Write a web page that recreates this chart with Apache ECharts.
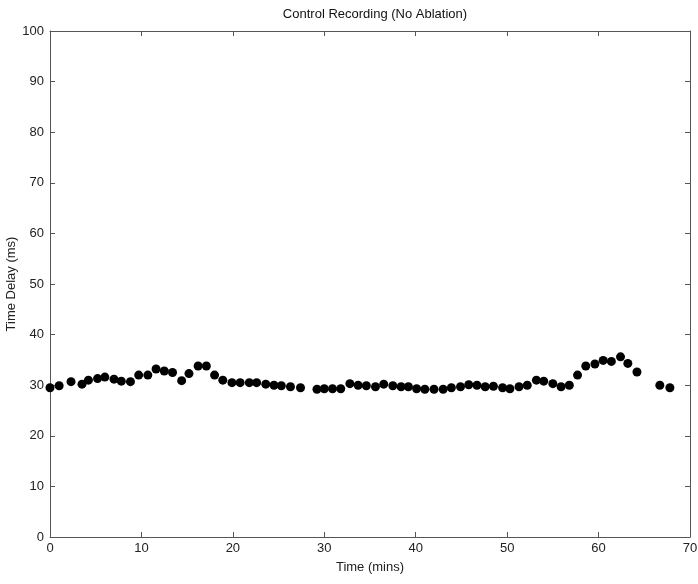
<!DOCTYPE html>
<html>
<head>
<meta charset="utf-8">
<script src="https://cdn.jsdelivr.net/npm/echarts@6/dist/echarts.min.js"></script>
<style>
  html, body { margin: 0; padding: 0; background: #fff; }
  #chart { width: 698px; height: 584px; }
</style>
</head>
<body>
<div id="chart"></div>
<script>
// 数据：时间 (mins) 与 延迟 (ms)
var timeMins = [0, 1.0, 2.3, 3.5, 4.2, 5.2, 6.0, 7.0, 7.8, 8.8, 9.7, 10.7, 11.6, 12.5, 13.4,
  14.4, 15.2, 16.2, 17.1, 18.0, 18.9, 19.9, 20.8, 21.8, 22.6, 23.6, 24.5, 25.3, 26.3, 27.4,
  29.2, 30.0, 30.9, 31.8, 32.8, 33.7, 34.6, 35.6, 36.5, 37.5, 38.4, 39.2, 40.1, 41.0, 42.0,
  43.0, 43.9, 44.9, 45.8, 46.7, 47.6, 48.5, 49.5, 50.3, 51.3, 52.2, 53.2, 54.0, 55.0, 55.9,
  56.8, 57.7, 58.6, 59.6, 60.5, 61.4, 62.4, 63.2, 64.2, 66.7, 67.8];
var delayMs = [29.5, 29.9, 30.7, 30.2, 31.0, 31.3, 31.6, 31.2, 30.8, 30.7, 32.0, 32.0, 33.2, 32.8, 32.5,
  30.9, 32.3, 33.8, 33.8, 32.0, 31.0, 30.5, 30.5, 30.5, 30.5, 30.2, 30.0, 29.9, 29.7, 29.5,
  29.2, 29.3, 29.3, 29.3, 30.3, 30.0, 29.9, 29.7, 30.2, 29.9, 29.7, 29.7, 29.3, 29.2, 29.2,
  29.2, 29.5, 29.7, 30.1, 30.0, 29.7, 29.8, 29.5, 29.3, 29.7, 30.0, 31.0, 30.8, 30.3, 29.7,
  30.0, 32.0, 33.8, 34.2, 34.9, 34.7, 35.6, 34.3, 32.6, 30.0, 29.5];

var points = timeMins.map(function(t, i) { return [t, delayMs[i]]; });

var myChart = echarts.init(document.getElementById("chart"));

var lineCol = "#555";
var labelStyle = { color: "#222", fontSize: 13, fontFamily: "Liberation Sans, Arial, sans-serif" };

var option = {
  animation: false,
  title: {
    text: "Control Recording (No Ablation)",
    left: 370,
    top: 3,
    textAlign: "center",
    textStyle: { color: "#111", fontSize: 13, fontWeight: "normal", fontFamily: "Liberation Sans, Arial, sans-serif" }
  },
  grid: { left: 50, top: 31, right: 8, bottom: 47, containLabel: false, outerBoundsMode: "none" },
  xAxis: [
    {
      type: "value", min: 0, max: 70, interval: 10,
      name: "Time (mins)", nameLocation: "middle", nameGap: 24,
      nameTextStyle: labelStyle,
      axisLine: { onZero: false, lineStyle: { color: lineCol } },
      axisTick: { inside: true, length: 5, lineStyle: { color: lineCol } },
      axisLabel: Object.assign({ margin: 5 }, labelStyle),
      splitLine: { show: false }
    },
    {
      type: "value", position: "top", min: 0, max: 70, interval: 10,
      axisLine: { show: true, onZero: false, lineStyle: { color: lineCol } },
      axisTick: { show: true, inside: true, length: 5, lineStyle: { color: lineCol } },
      axisLabel: { show: false },
      splitLine: { show: false }
    }
  ],
  yAxis: [
    {
      type: "value", min: 0, max: 100, interval: 10,
      name: "Time Delay (ms)", nameLocation: "middle", nameGap: 32,
      nameMoveOverlap: false,
      nameTextStyle: labelStyle,
      axisLine: { show: true, onZero: false, lineStyle: { color: lineCol } },
      axisTick: { show: true, inside: true, length: 5, lineStyle: { color: lineCol } },
      axisLabel: Object.assign({ margin: 6 }, labelStyle),
      splitLine: { show: false }
    },
    {
      type: "value", position: "right", min: 0, max: 100, interval: 10,
      axisLine: { show: true, onZero: false, lineStyle: { color: lineCol } },
      axisTick: { show: true, inside: true, length: 5, lineStyle: { color: lineCol } },
      axisLabel: { show: false },
      splitLine: { show: false }
    }
  ],
  series: [
    {
      type: "scatter",
      data: points,
      symbol: "circle",
      symbolSize: 9,
      itemStyle: { color: "#000", opacity: 1 }
    },
    {
      // 隐形系列，仅用于激活顶部/右侧坐标轴
      type: "scatter",
      xAxisIndex: 1,
      yAxisIndex: 1,
      data: points,
      symbolSize: 0,
      silent: true,
      itemStyle: { opacity: 0 }
    }
  ]
};

myChart.setOption(option);
</script>
</body>
</html>
